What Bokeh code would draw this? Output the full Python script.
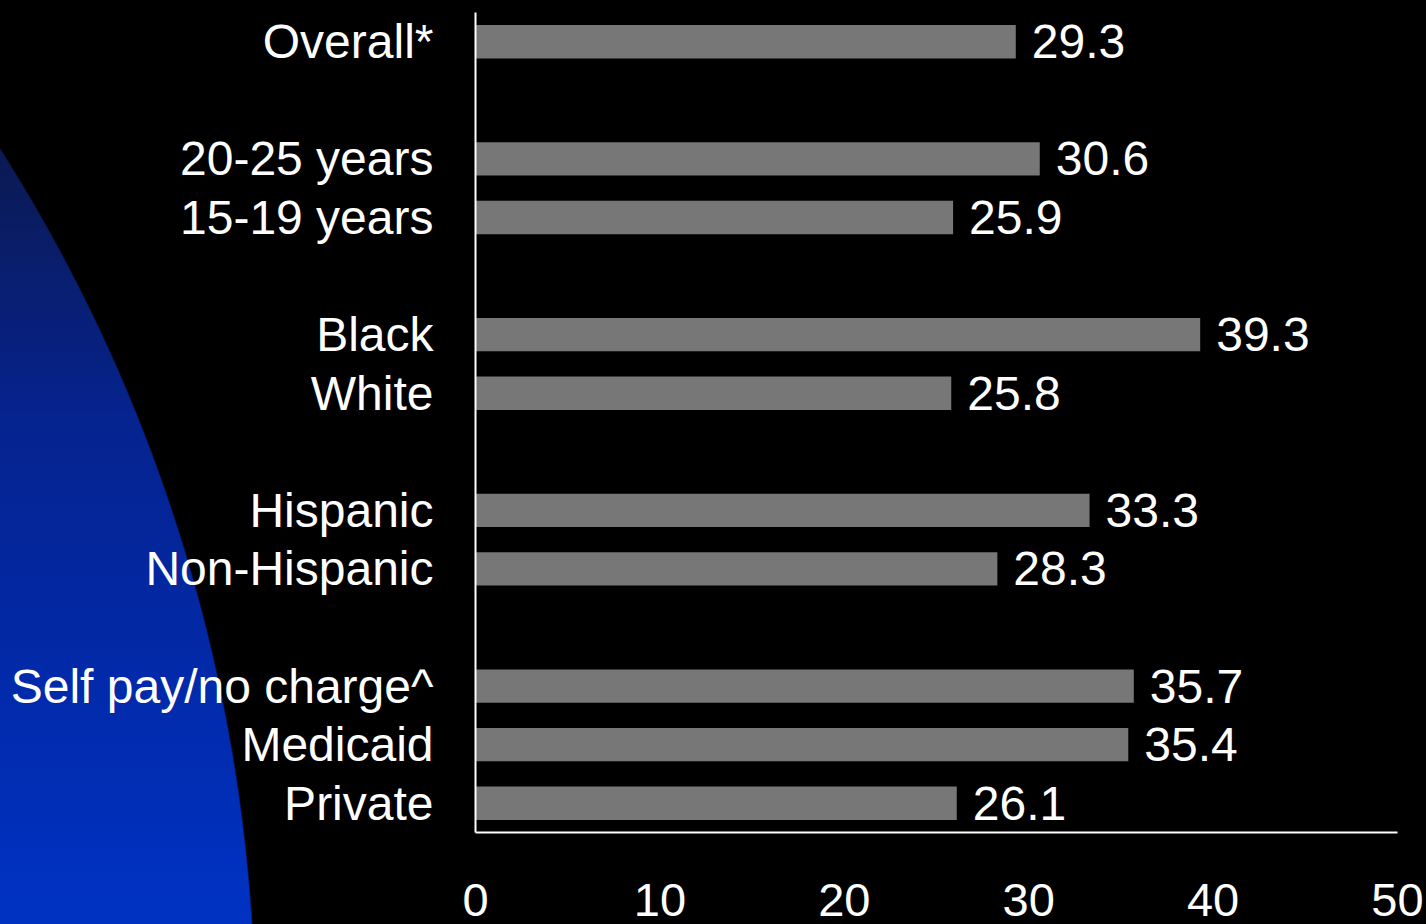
from bokeh.plotting import figure
from bokeh.models import ColumnDataSource, FactorRange, Range1d, FixedTicker
from bokeh.core.properties import value
from bokeh.embed import file_html
from bokeh.resources import INLINE

# ---- data ----
categories = ["Overall*", "20-25 years", "15-19 years", "Black", "White",
              "Hispanic", "Non-Hispanic", "Self pay/no charge^", "Medicaid", "Private"]
values = [29.3, 30.6, 25.9, 39.3, 25.8, 33.3, 28.3, 35.7, 35.4, 26.1]
group_sizes = [1, 2, 2, 2, 3]
x_ticks = [0, 10, 20, 30, 40, 50]

# build factor list with blank spacer rows between groups
factors = []
i = 0
for g, n in enumerate(group_sizes):
    factors.extend(categories[i:i + n])
    i += n
    if g < len(group_sizes) - 1:
        factors.append(" " * (g + 1))

FONT = value("Liberation Sans")

p = figure(width=1426, height=924, output_backend="svg", toolbar_location=None,
           y_range=FactorRange(factors=list(reversed(factors)), range_padding=0),
           x_range=Range1d(0, 50),
           min_border_left=475, min_border_right=29, min_border_top=12, min_border_bottom=92)

p.background_fill_alpha = 0
p.border_fill_alpha = 0
p.outline_line_color = None
p.grid.grid_line_color = None

src = ColumnDataSource(dict(cat=categories, val=values, lab=[f"{v:.1f}" for v in values]))
p.hbar(y="cat", left=0, right="val", height=0.57, source=src,
       fill_color="#777777", line_color=None)
p.text(x="val", y="cat", text="lab", source=src, x_offset=16,
       text_baseline="middle", text_align="left", text_color="white",
       text_font_size="48px", text_font=FONT)

for ax in (p.xaxis, p.yaxis):
    ax.axis_line_color = "white"
    ax.axis_line_width = 2
    ax.major_tick_line_color = None
    ax.minor_tick_line_color = None
    ax.major_tick_out = 0
    ax.major_tick_in = 0
    ax.major_label_text_color = "white"
    ax.major_label_text_font = "Liberation Sans"

p.yaxis.major_label_text_font_size = "48px"
p.yaxis.major_label_standoff = 42
p.xaxis.major_label_text_font_size = "47px"
p.xaxis.major_label_standoff = 51
p.xaxis.ticker = FixedTicker(ticks=x_ticks)

html = file_html(p, INLINE, title="chart")
style = ("<style>html{margin:0;padding:0;overflow:hidden;background-color:#000;"
         "background-image:radial-gradient(circle 1634px at -1378px 1025px, rgba(0,0,0,0) 99.9%, #000 100%),"
         "linear-gradient(to bottom, #050c30 0px, #0b1a55 160px, #06238e 415px, #0229a8 665px, #0032c2 905px);"
         "background-repeat:no-repeat;}"
         "body{margin:0;padding:0;overflow:hidden;background:transparent;}</style>")
html = html.replace("</head>", style + "</head>")
open("out.html", "w").write(html)
